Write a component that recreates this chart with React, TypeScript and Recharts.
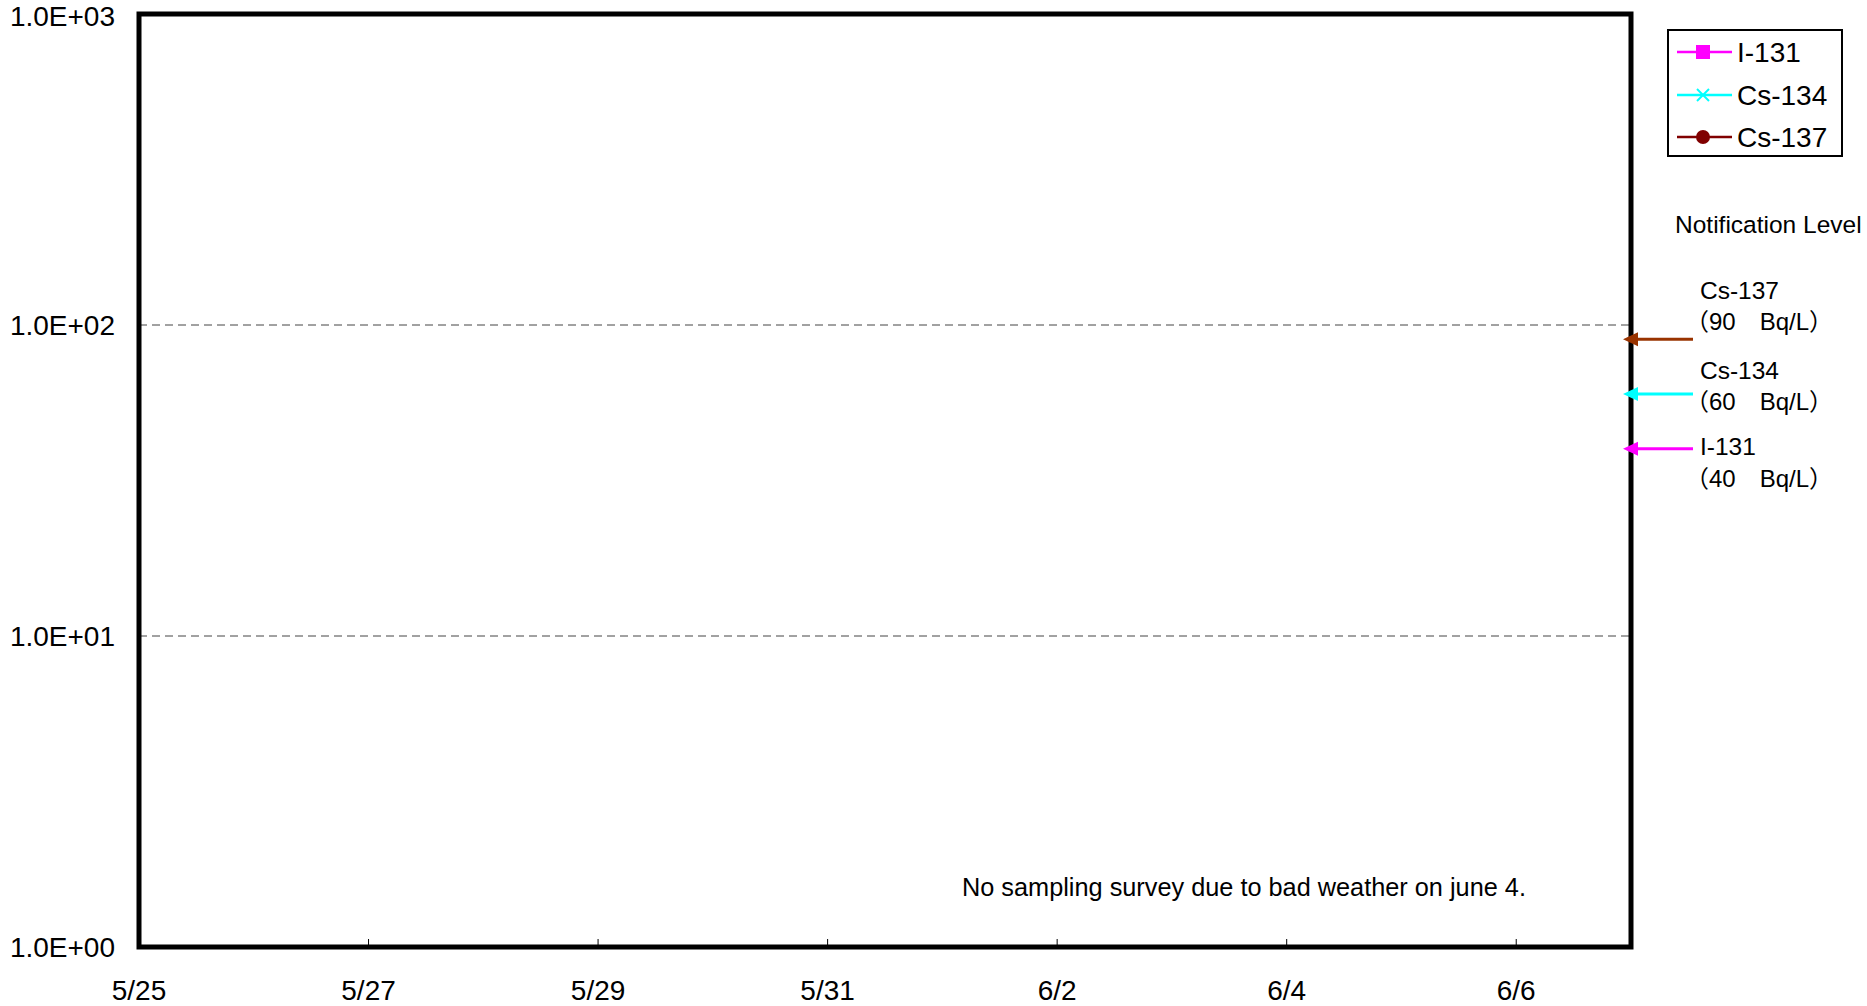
import React from "react";
import {
  LineChart,
  Line,
  XAxis,
  YAxis,
  CartesianGrid,
  ReferenceLine,
  ReferenceArea,
  Legend,
} from "recharts";

// ---- data ----
const dates = ["5/25", "5/26", "5/27", "5/28", "5/29", "5/30", "5/31", "6/1", "6/2", "6/3", "6/4", "6/5", "6/6", "6/7"];
// No detections plotted in this period (all empty)
const i131: (number | null)[] = [null, null, null, null, null, null, null, null, null, null, null, null, null, null];
const cs134: (number | null)[] = [null, null, null, null, null, null, null, null, null, null, null, null, null, null];
const cs137: (number | null)[] = [null, null, null, null, null, null, null, null, null, null, null, null, null, null];

const seriesNames = ["I-131", "Cs-134", "Cs-137"];
const seriesKeys = ["i131", "cs134", "cs137"];
const seriesColors = ["#FF00FF", "#00FFFF", "#800000"];

const yTicks = [1, 10, 100, 1000];
const yTickLabels = ["1.0E+00", "1.0E+01", "1.0E+02", "1.0E+03"];

const levelNames = ["Cs-137", "Cs-134", "I-131"];
const levelValues = [90, 60, 40];
const levelUnits = ["（90　Bq/L）", "（60　Bq/L）", "（40　Bq/L）"];
const levelColors = ["#993300", "#00FFFF", "#FF00FF"];
// label vertical offsets (style)
const levelNameDy = [-49, -24, -2];
const levelUnitDy = [-18, 7, 30];

const noteText = "No sampling survey due to bad weather on june 4.";
const levelTitle = "Notification Level";

const data = dates.map((d, i) => ({
  date: d,
  i131: i131[i],
  cs134: cs134[i],
  cs137: cs137[i],
}));

const FONT = "'Liberation Sans', Arial, 'Noto Sans CJK JP', sans-serif";

const XTick = (props: any) => {
  const { x, y, payload } = props;
  return (
    <g>
      <line x1={x} x2={x} y1={y - 8} y2={y} stroke="#000" strokeWidth={1} />
      <text x={x} y={y + 43} dy="0.355em" textAnchor="middle" fontSize={28} fill="#000" fontFamily={FONT}>
        {payload.value}
      </text>
    </g>
  );
};

const Marker = ({ idx, cx, cy }: { idx: number; cx: number; cy: number }) => {
  const c = seriesColors[idx];
  if (idx === 0) return <rect x={cx - 7} y={cy - 7} width={14} height={14} fill={c} />;
  if (idx === 1)
    return (
      <g stroke={c} strokeWidth={2}>
        <line x1={cx - 6} y1={cy - 6} x2={cx + 6} y2={cy + 6} />
        <line x1={cx - 6} y1={cy + 6} x2={cx + 6} y2={cy - 6} />
      </g>
    );
  return <circle cx={cx} cy={cy} r={7} fill={c} />;
};

const LegendContent = () => {
  const rowY = [23, 66, 108];
  return (
    <svg width={176} height={128} style={{ display: "block" }}>
      <rect x={1} y={1} width={174} height={126} fill="#fff" stroke="#000" strokeWidth={2} />
      {seriesNames.map((n, i) => (
        <g key={n}>
          <line x1={10} x2={65} y1={rowY[i]} y2={rowY[i]} stroke={seriesColors[i]} strokeWidth={2.5} />
          <Marker idx={i} cx={36} cy={rowY[i]} />
          <text x={70} y={rowY[i]} dy="0.355em" fontSize={28} fill="#000" fontFamily={FONT}>
            {n}
          </text>
        </g>
      ))}
    </svg>
  );
};

const makeArrow = (i: number) => (p: any) => {
  const y = p.y1;
  const x = p.x2;
  const c = levelColors[i];
  return (
    <g>
      <line x1={x - 4} y1={y} x2={x + 62} y2={y} stroke={c} strokeWidth={3} />
      <polygon points={`${x - 8},${y} ${x + 7},${y - 7} ${x + 7},${y + 7}`} fill={c} />
      <text x={x + 69} y={y + levelNameDy[i]} dy="0.355em" fontSize={24.5} fill="#000" fontFamily={FONT}>
        {levelNames[i]}
      </text>
      <text x={x + 54} y={y + levelUnitDy[i]} dy="0.355em" fontSize={24} fill="#000" fontFamily={FONT}>
        {levelUnits[i]}
      </text>
    </g>
  );
};

export default function App() {
  return (
    <div style={{ position: "absolute", left: 0, top: 0, width: 1867, height: 1006, background: "#fff", fontFamily: FONT }}>
      <LineChart width={1867} height={1006} data={data} margin={{ top: 14, right: 236, bottom: 0, left: 0 }}>
        <CartesianGrid vertical={false} stroke="#444" strokeDasharray="8 5" strokeWidth={1} />
        <XAxis
          dataKey="date"
          type="category"
          interval={1}
          height={59}
          tickSize={0}
          tickMargin={0}
          axisLine={false}
          tick={<XTick />}
        />
        <YAxis
          scale="log"
          domain={[1, 1000]}
          ticks={yTicks}
          allowDataOverflow
          width={139}
          tickSize={0}
          tickMargin={24}
          axisLine={false}
          tickFormatter={(v: number) => yTickLabels[yTicks.indexOf(v)] ?? ""}
          tick={{ fontSize: 28, fill: "#000", fontFamily: FONT }}
        />
        <ReferenceArea
          x1={dates[0]}
          x2={dates[dates.length - 1]}
          y1={1}
          y2={1000}
          fill="none"
          fillOpacity={0}
          stroke="#000"
          strokeWidth={5}
          ifOverflow="visible"
        />
        {levelValues.map((v, i) => (
          <ReferenceLine key={levelNames[i]} y={v} shape={makeArrow(i)} ifOverflow="visible" />
        ))}
        {seriesKeys.map((k, i) => (
          <Line
            key={k}
            dataKey={k}
            name={seriesNames[i]}
            stroke={seriesColors[i]}
            strokeWidth={2}
            dot={false}
            isAnimationActive={false}
            connectNulls={false}
          />
        ))}
        <Legend
          layout="horizontal"
          verticalAlign="middle"
          align="center"
          content={<LegendContent />}
          wrapperStyle={{ position: "absolute", left: 1667, top: 29, width: 176, height: 128, bottom: "auto", right: "auto" }}
        />
      </LineChart>
      <div style={{ position: "absolute", left: 1675, top: 210, fontSize: 24.5, lineHeight: "30px", color: "#000", whiteSpace: "nowrap" }}>
        {levelTitle}
      </div>
      <div style={{ position: "absolute", left: 962, top: 872, fontSize: 25.3, lineHeight: "30px", color: "#000", whiteSpace: "nowrap" }}>
        {noteText}
      </div>
    </div>
  );
}
